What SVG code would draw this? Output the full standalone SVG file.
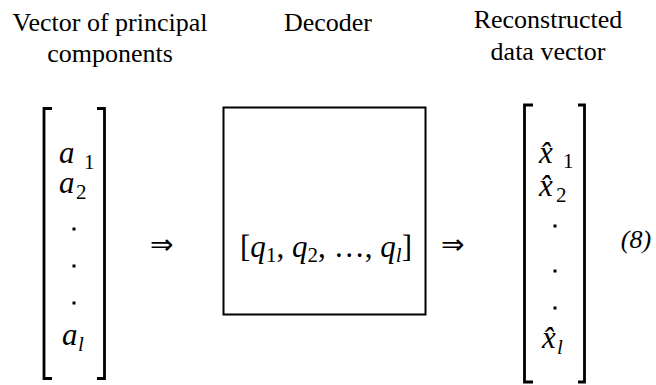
<svg xmlns="http://www.w3.org/2000/svg" width="656" height="385" viewBox="0 0 656 385">
<defs>
<rect id="dot" width="3" height="3" fill="#000"/>
</defs>
<rect width="656" height="385" fill="#fff"/>
<g id="title-left" text-anchor="middle">
<text font-family="'Liberation Serif', serif" font-size="26" x="110" y="31">Vector of principal</text>
<text font-family="'Liberation Serif', serif" font-size="26" x="110" y="62">components</text>
</g>
<g id="title-mid" text-anchor="middle">
<text font-family="'Liberation Serif', serif" font-size="26" x="328" y="31">Decoder</text>
</g>
<g id="title-right" text-anchor="middle">
<text font-family="'Liberation Serif', serif" font-size="26" x="548" y="28">Reconstructed</text>
<text font-family="'Liberation Serif', serif" font-size="26" x="548" y="60">data vector</text>
</g>
<g id="input-vector">
<g fill="none" stroke="#000" stroke-width="2.8">
<path d="M52,108.5 H44 V378.5 H52"/>
<path d="M97,108.5 H104.5 V378.5 H97"/>
</g>
<text font-family="'Liberation Serif', serif" font-style="italic" font-size="31" x="59" y="163">a</text>
<text font-family="'Liberation Serif', serif" font-size="21" x="84" y="169">1</text>
<text font-family="'Liberation Serif', serif" font-style="italic" font-size="31" x="59" y="193">a</text>
<text font-family="'Liberation Serif', serif" font-size="21" x="76" y="199">2</text>
<use href="#dot" x="72.5" y="227.5"/>
<use href="#dot" x="72.5" y="264.5"/>
<use href="#dot" x="72.5" y="301.5"/>
<text font-family="'Liberation Serif', serif" font-style="italic" font-size="31" x="62" y="345">a</text>
<text font-family="'Liberation Serif', serif" font-style="italic" font-size="21" x="78" y="351">l</text>
</g>
<g id="decoder">
<rect x="223.5" y="107.5" width="202" height="207" fill="none" stroke="#000" stroke-width="2"/>
<text font-family="'Liberation Serif', serif" font-size="31" x="240" y="257" textLength="172" lengthAdjust="spacing">[<tspan font-style="italic">q</tspan><tspan font-size="21" dy="5">1</tspan><tspan dy="-5">, </tspan><tspan font-style="italic">q</tspan><tspan font-size="21" dy="5">2</tspan><tspan dy="-5">, …, </tspan><tspan font-style="italic">q</tspan><tspan font-style="italic" font-size="21" dy="5">l</tspan><tspan dy="-5">]</tspan></text>
</g>
<g id="output-vector">
<g fill="none" stroke="#000" stroke-width="2.8">
<path d="M533,105 H524.5 V382 H533"/>
<path d="M578,105 H584.5 V382 H578"/>
</g>
<text font-family="'Liberation Serif', serif" font-style="italic" font-size="31" x="539" y="163">x̂</text>
<text font-family="'Liberation Serif', serif" font-size="21" x="563" y="168">1</text>
<text font-family="'Liberation Serif', serif" font-style="italic" font-size="31" x="539" y="196">x̂</text>
<text font-family="'Liberation Serif', serif" font-size="21" x="556" y="202">2</text>
<use href="#dot" x="553.5" y="224.5"/>
<use href="#dot" x="553.5" y="269.5"/>
<use href="#dot" x="553.5" y="306.5"/>
<text font-family="'Liberation Serif', serif" font-style="italic" font-size="31" x="542" y="348">x̂</text>
<text font-family="'Liberation Serif', serif" font-style="italic" font-size="21" x="557" y="354">l</text>
</g>
<g id="label">
<text font-family="'Liberation Serif', serif" font-style="italic" font-size="26" text-anchor="middle" x="636" y="248">(8)</text>
</g>
<g id="connectors">
<text font-family="'DejaVu Sans', sans-serif" font-size="28" x="150" y="254">⇒</text>
<text font-family="'DejaVu Sans', sans-serif" font-size="28" x="441" y="254">⇒</text>
</g>
</svg>
